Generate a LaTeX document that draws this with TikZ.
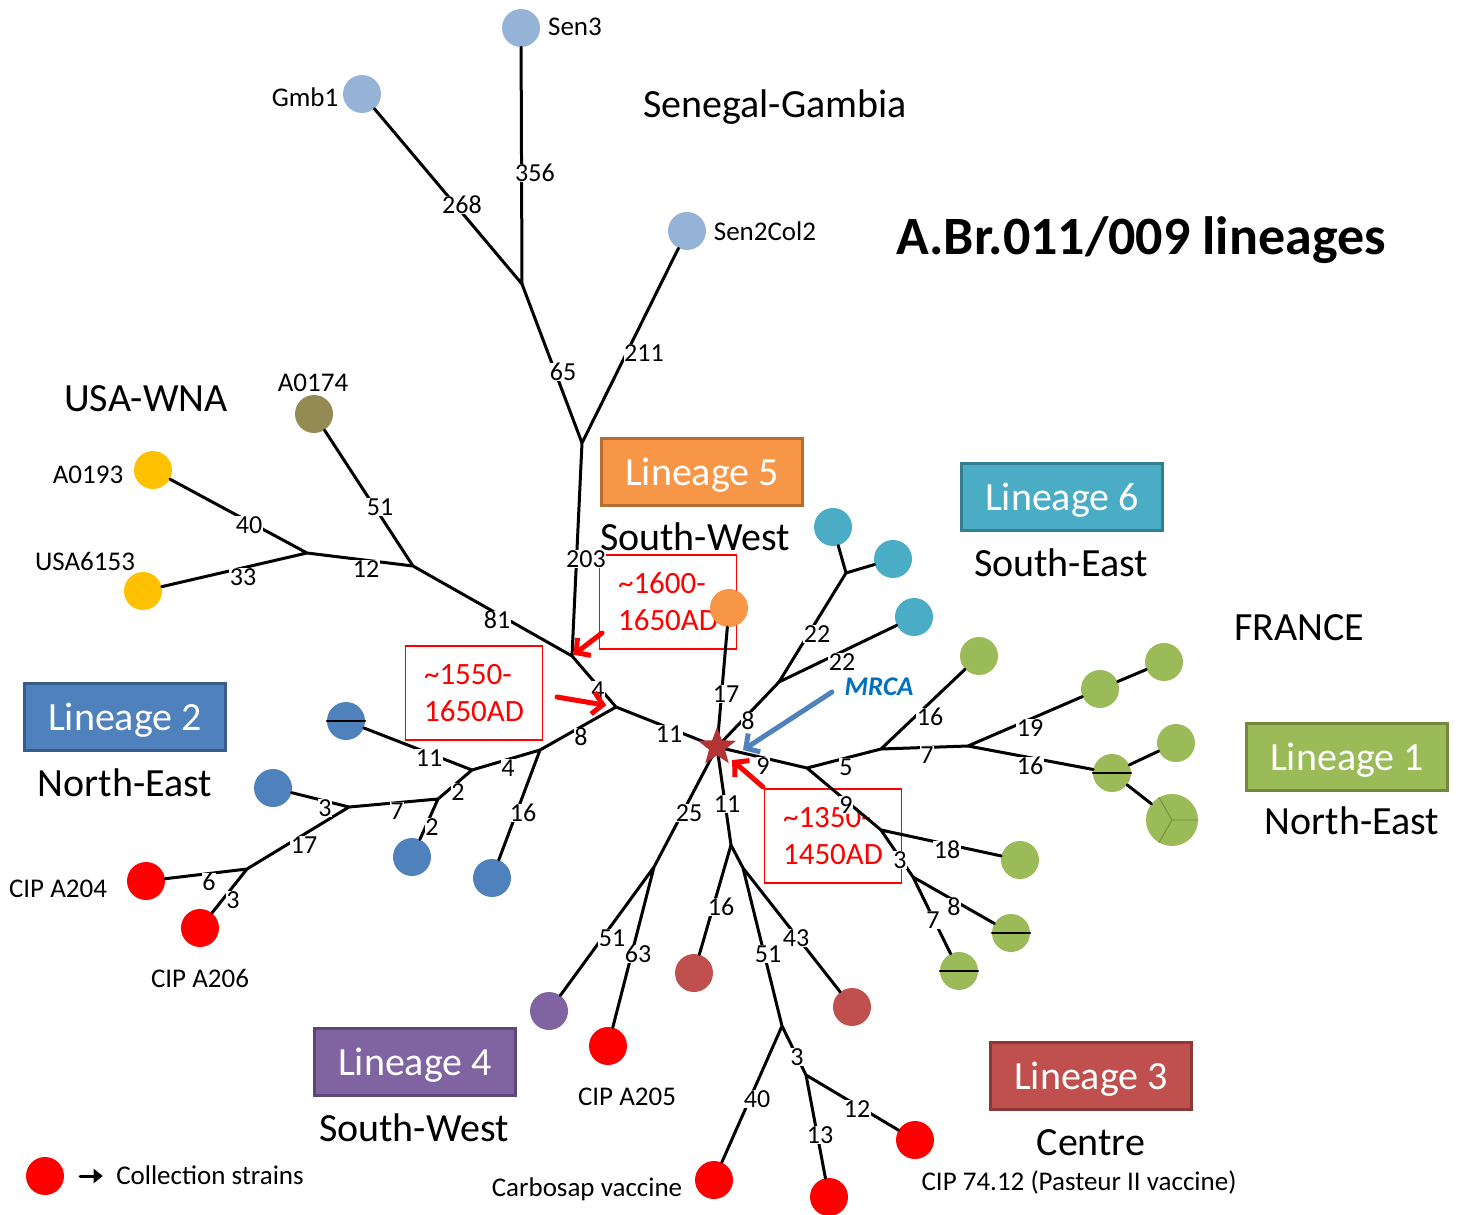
\documentclass[tikz,border=0pt]{standalone}
\usepackage{fontspec}
\setmainfont{Carlito}
\usetikzlibrary{shapes.geometric,arrows.meta}

\definecolor{sgblue}{RGB}{149,179,215}
\definecolor{usyellow}{RGB}{255,192,0}
\definecolor{usolive}{RGB}{148,138,84}
\definecolor{ln1}{RGB}{155,187,89}
\definecolor{ln2}{RGB}{79,129,189}
\definecolor{ln3}{RGB}{192,80,77}
\definecolor{ln4}{RGB}{128,100,162}
\definecolor{ln5}{RGB}{247,150,70}
\definecolor{ln6}{RGB}{75,172,198}
\definecolor{ln1dark}{RGB}{113,137,63}
\definecolor{ln2dark}{RGB}{56,93,138}
\definecolor{ln3dark}{RGB}{140,56,54}
\definecolor{ln4dark}{RGB}{92,71,118}
\definecolor{ln5dark}{RGB}{182,109,49}
\definecolor{ln6dark}{RGB}{53,125,145}
\definecolor{mrcablue}{RGB}{0,112,192}
\definecolor{starred}{RGB}{178,52,52}

\begin{document}
\begin{tikzpicture}[x=1pt,y=-1pt,line cap=round,
  leaf/.style={circle,minimum size=38pt,inner sep=0pt},
  branch/.style={line width=3pt},
  elab/.style={fill=white,inner sep=.5pt,text height=16.5pt,text depth=0pt,font=\fontsize{26}{26}\selectfont},
  tag/.style={text height=17.5pt,text depth=0pt,font=\fontsize{27}{27}\selectfont},
  region/.style={text height=26pt,text depth=0pt,font=\fontsize{40}{40}\selectfont},
  linbox/.style={draw,line width=3pt,minimum width=201pt,minimum height=67pt,text=white,
    text height=26pt,text depth=0pt,font=\fontsize{40}{40}\selectfont},
  datebox/.style={draw=red,line width=1.5pt,text=red,align=left,minimum width=137pt,
    minimum height=94pt,font=\fontsize{31}{37}\selectfont},
  datearrow/.style={red,line width=5pt,-{Straight Barb[length=10pt,width=22pt]}},
  halfline/.style={line width=1.5pt}]
\useasboundingbox (0,0) rectangle (1459,1215);

% titles and regions
\node[font=\fontsize{54}{54}\selectfont\bfseries,text height=35pt,text depth=0pt] (title) at (1141,237) {A.Br.011/009 lineages};
\node[region] (senegal) at (775,104) {Senegal-Gambia};
\node[region] (usa) at (146,398) {USA-WNA};
\node[region] (france) at (1299,627) {FRANCE};
\node[region] (sw5) at (695,537) {South-West};
\node[region] (se6) at (1061,563) {South-East};
\node[region] (ne2) at (125,783) {North-East};
\node[region] (ne1) at (1352,821) {North-East};
\node[region] (sw4) at (414,1128) {South-West};
\node[region] (centre) at (1091,1142) {Centre};

\node[linbox,fill=ln5,draw=ln5dark] (lin5) at (702,472) {Lineage 5};
\node[linbox,fill=ln6,draw=ln6dark] (lin6) at (1062,497) {Lineage 6};
\node[linbox,fill=ln2,draw=ln2dark] (lin2) at (125,717) {Lineage 2};
\node[linbox,fill=ln1,draw=ln1dark] (lin1) at (1347,757) {Lineage 1};
\node[linbox,fill=ln4,draw=ln4dark] (lin4) at (415,1062) {Lineage 4};
\node[linbox,fill=ln3,draw=ln3dark] (lin3) at (1091,1076) {Lineage 3};

% dating boxes
\node[datebox] (date1) at (668,602) {\textasciitilde1600-\\1650AD};
\node[datebox] (date2) at (474,693) {\textasciitilde1550-\\1650AD};
\node[datebox] (date3) at (833,836) {\textasciitilde1350-\\1450AD};

% leaves
\node[leaf,fill=sgblue] (sen3) at (521,28) {};
\node[leaf,fill=sgblue] (gmb1) at (362,94) {};
\node[leaf,fill=sgblue] (sen2col2) at (687,231) {};
\node[leaf,fill=usolive] (a0174) at (314,414) {};
\node[leaf,fill=usyellow] (a0193) at (153,470) {};
\node[leaf,fill=usyellow] (usa6153) at (143,591) {};
\node[leaf,fill=ln2] (b1) at (346,721) {};
\node[leaf,fill=ln2] (b2) at (273,788) {};
\node[leaf,fill=ln2] (b4) at (412,857) {};
\node[leaf,fill=ln2] (b5) at (492,878) {};
\node[leaf,fill=red] (a204) at (146,881) {};
\node[leaf,fill=red] (a206) at (200,928) {};
\node[leaf,fill=ln5] (o5) at (729,608) {};
\node[leaf,fill=ln6] (t1) at (833,527) {};
\node[leaf,fill=ln6] (t2) at (893,559) {};
\node[leaf,fill=ln6] (t3) at (914,617) {};
\node[leaf,fill=ln1] (g1) at (979,656) {};
\node[leaf,fill=ln1] (g2) at (1100,689) {};
\node[leaf,fill=ln1] (g2b) at (1164,662) {};
\node[leaf,fill=ln1] (g3) at (1112,773) {};
\node[leaf,fill=ln1] (g4) at (1176,743) {};
\node[leaf,fill=ln1,minimum size=52pt] (g5) at (1172,820) {};
\node[leaf,fill=ln1] (g6) at (1020,860) {};
\node[leaf,fill=ln1] (g7) at (1011,933) {};
\node[leaf,fill=ln1] (g8) at (959,971) {};
\node[leaf,fill=ln4] (p4) at (549,1011) {};
\node[leaf,fill=red] (a205) at (608,1046) {};
\node[leaf,fill=ln3] (r1) at (694,973) {};
\node[leaf,fill=ln3] (r2) at (852,1007) {};
\node[leaf,fill=red] (carbo) at (714,1180) {};
\node[leaf,fill=red] (c7412) at (915,1140) {};
\node[leaf,fill=red] (rbot) at (829,1197) {};

\draw[halfline] (b1.west) -- (b1.east);
\draw[halfline] (g3.west) -- (g3.east);
\draw[halfline] (g7.west) -- (g7.east);
\draw[halfline] (g8.west) -- (g8.east);
\draw[ln1dark,line width=.8pt] (g5.120) -- (g5.center) -- (g5.0) (g5.center) -- (g5.240);

% leaf names
\node[tag] (tsen3) at (575,27) {Sen3};
\node[tag] (tgmb1) at (305,98) {Gmb1};
\node[tag] (tsen2col2) at (765,232) {Sen2Col2};
\node[tag] (ta0174) at (313,383) {A0174};
\node[tag] (ta0193) at (88,475) {A0193};
\node[tag] (tusa6153) at (85,562) {USA6153};
\node[tag] (ta204) at (58,889) {CIP A204};
\node[tag] (ta206) at (200,979) {CIP A206};
\node[tag] (ta205) at (627,1097) {CIP A205};
\node[tag] (tcarbo) at (587,1188) {Carbosap vaccine};
\node[tag] (tc7412) at (1079,1182) {CIP 74.12 (Pasteur II vaccine)};

% branch points
\coordinate (j1) at (522,284);
\coordinate (j2) at (582,443);
\coordinate (n1) at (572,656);
\coordinate (n2) at (616,707);
\coordinate (n3) at (413,566);
\coordinate (n4) at (307,553);
\coordinate (n5) at (540,750);
\coordinate (n6) at (472,770);
\coordinate (n7) at (438,799);
\coordinate (n8) at (349,807);
\coordinate (n9) at (247,869);
\coordinate (mrca) at (717,747);
\coordinate (n10) at (779,682);
\coordinate (n11) at (846,573);
\coordinate (n12) at (807,768);
\coordinate (n13) at (881,749);
\coordinate (n14) at (881,830);
\coordinate (n15) at (913,877);
\coordinate (n16) at (968,746);
\coordinate (n17) at (654,867);
\coordinate (n18) at (731,845);
\coordinate (n19) at (743,868);
\coordinate (n20) at (782,1026);
\coordinate (n21) at (806,1075);

\draw[branch] (j1) -- (sen3) (j1) -- (gmb1) (j2) -- (j1) (j2) -- (sen2col2) (j2) -- (n1)
  (n1) -- (n2) (n1) -- (n3) (n3) -- (a0174) (n3) -- (n4) (n4) -- (a0193) (n4) -- (usa6153)
  (n2) -- (mrca) (n2) -- (n5) (n5) -- (n6) (n5) -- (b5) (n6) -- (b1) (n6) -- (n7)
  (n7) -- (n8) (n7) -- (b4) (n8) -- (b2) (n8) -- (n9) (n9) -- (a204) (n9) -- (a206)
  (mrca) -- (o5) (mrca) -- (n10) (n10) -- (n11) (n10) -- (t3) (n11) -- (t1) (n11) -- (t2)
  (mrca) -- (n12) (n12) -- (n13) (n12) -- (n14) (n14) -- (g6) (n14) -- (n15)
  (n15) -- (g7) (n15) -- (g8) (n13) -- (g1) (n13) -- (n16) (n16) -- (g2) (n16) -- (g3)
  (g2) -- (g2b) (g3) -- (g4) (g3) -- (g5)
  (mrca) -- (n17) (n17) -- (p4) (n17) -- (a205)
  (mrca) -- (n18) (n18) -- (r1) (n18) -- (n19) (n19) -- (r2) (n19) -- (n20)
  (n20) -- (carbo) (n20) -- (n21) (n21) -- (c7412) (n21) -- (rbot);

% SNP counts
\foreach \x/\y/\n [count=\i] in {535/173/356, 462/205/268, 563/372/65, 644/353/211, 586/559/203,
  497/620/81, 380/507/51, 366/569/12, 249/525/40, 243/577/33, 598/690/4, 581/737/8,
  669/734/11, 508/768/4, 523/813/16, 429/758/11, 458/792/2, 397/811/7, 432/827/2,
  325/808/3, 304/845/17, 209/882/6, 233/900/3, 726/694/17, 748/721/8, 817/634/22,
  842/662/22, 763/766/9, 846/767/5, 930/717/16, 927/755/7, 1030/728/19, 1030/766/16,
  846/805/9, 947/850/18, 900/860/3, 954/907/8, 933/920/7, 689/813/25, 727/804/11,
  612/938/51, 638/954/63, 721/907/16, 768/954/51, 796/938/43, 757/1099/40,
  797/1057/3, 857/1109/12, 820/1135/13}
  \node[elab] (snp\i) at (\x,\y) {\n};

% MRCA
\node[star,star points=5,star point ratio=2.4,minimum size=40pt,inner sep=0pt,fill=starred] (mrcastar) at (mrca) {};
\node[font=\fontsize{27}{27}\selectfont\bfseries\itshape,text=mrcablue,text height=17.5pt,text depth=0pt] (mrcatxt) at (879,687) {MRCA};
\coordinate (mtail) at (832,692);
\coordinate (mtip) at (743,750);
\draw[ln2,line width=5pt,-{Straight Barb[length=10pt,width=22pt]}] (mtail) -- (mtip);

\coordinate (d1tail) at (602,633);
\coordinate (d2tail) at (557,697);
\coordinate (d3tail) at (763,787);
\draw[datearrow,shorten >=2pt] (d1tail) -- (n1);
\draw[datearrow,shorten >=10pt] (d2tail) -- (n2);
\draw[datearrow,shorten >=20pt] (d3tail) -- (mrca);

% legend
\node[leaf,fill=red] (key) at (45,1176) {};
\node[tag] (keytxt) at (210,1176) {Collection strains};
\draw[line width=3pt,-{Triangle[length=9pt,width=14pt]},shorten <=16pt,shorten >=10pt] (key) -- (keytxt);
\end{tikzpicture}
\end{document}
